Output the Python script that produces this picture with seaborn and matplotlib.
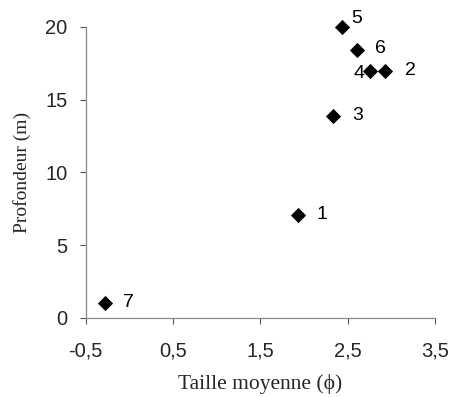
import matplotlib
matplotlib.use("Agg")
import matplotlib.pyplot as plt
import seaborn as sns
import pandas as pd
from matplotlib.ticker import FuncFormatter

# Data
stations = ["1", "2", "3", "4", "5", "6", "7"]
taille = [1.93, 2.93, 2.33, 2.75, 2.43, 2.60, -0.28]
profondeur = [7.1, 17.0, 13.9, 17.0, 20.0, 18.4, 1.0]

df = pd.DataFrame({"station": stations, "taille": taille, "prof": profondeur})

sns.set_theme(style="white")
plt.rcParams["font.family"] = ["Liberation Sans", "DejaVu Sans"]

fig = plt.figure(figsize=(4.51, 3.97), dpi=100)
ax = fig.add_axes([0.19, 0.199, 0.775, 0.733])

sns.scatterplot(data=df, x="taille", y="prof", marker="D", color="black",
                s=60, edgecolor="black", linewidth=0, ax=ax, clip_on=False, zorder=3)

# label offsets (points)
offsets = {"1": (17, 0), "2": (18, 0), "3": (18, 0), "4": (-8, -2),
           "5": (11, 6), "6": (17, 1), "7": (17, 1)}
for st, x, y in zip(stations, taille, profondeur):
    dx, dy = offsets[st]
    ax.annotate(st, (x, y), xytext=(dx, dy), textcoords="offset points",
                ha="center", va="center", fontsize=14, color="black")

ax.set_xlim(-0.5, 3.5)
ax.set_ylim(0, 20)
ax.set_xticks([-0.5, 0.5, 1.5, 2.5, 3.5])
ax.set_yticks([0, 5, 10, 15, 20])
ax.xaxis.set_major_formatter(FuncFormatter(lambda v, p: f"{v:.1f}".replace(".", ",")))
ax.tick_params(axis="both", which="major", labelsize=14.5, length=4, width=0.8,
               color="#555555", direction="out", bottom=True, left=True)
ax.tick_params(axis="x", pad=13)
ax.tick_params(axis="y", pad=9)
for side in ["top", "right"]:
    ax.spines[side].set_visible(False)
for side in ["left", "bottom"]:
    ax.spines[side].set_color("#888888")
    ax.spines[side].set_linewidth(0.9)

ax.set_xlabel("Taille moyenne (ϕ)", family=["Liberation Serif", "DejaVu Serif"], fontsize=15.5, labelpad=10)
ax.set_ylabel("Profondeur (m)", family=["Liberation Serif", "DejaVu Serif"], fontsize=14, labelpad=10)

fig.savefig("out.png", dpi=100)
